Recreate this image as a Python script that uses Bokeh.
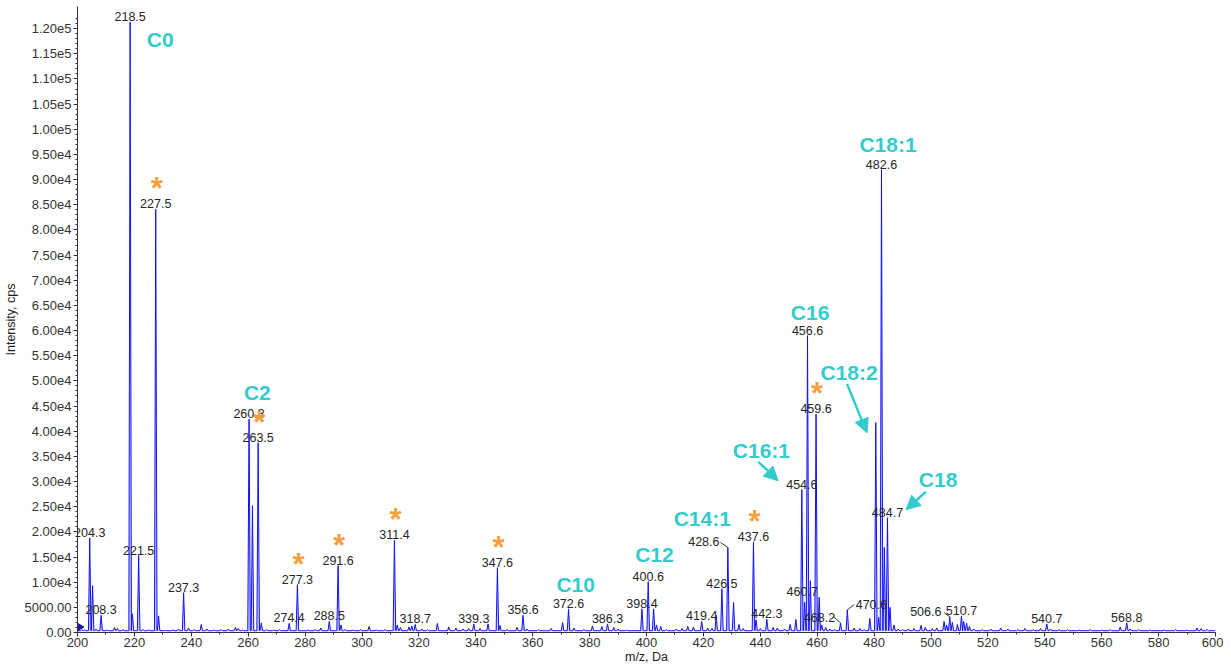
import numpy as np
from bokeh.plotting import figure
from bokeh.models import (ColumnDataSource, Range1d, FixedTicker, CustomJSTickFormatter,
                          LabelSet, Arrow, NormalHead)
from bokeh.core.properties import value
from bokeh.embed import file_html
from bokeh.resources import INLINE

# ---------------- data ----------------
# main peaks (m/z, intensity cps)
peak_mz = [204.3, 205.3, 208.3, 218.5, 219.3, 221.5, 227.5, 228.5, 237.3,
           260.3, 261.5, 263.5, 264.6, 274.4, 277.3, 288.5, 291.6, 292.6,
           311.4, 312.4, 318.7, 339.3, 344.3, 347.6, 348.5, 356.6, 370.5, 372.6,
           386.3, 398.4, 400.6, 402.5, 403.5, 419.4, 424.5, 426.5, 428.6, 430.6,
           437.6, 438.5, 442.3, 452.5, 454.6, 455.6, 456.6, 457.6, 459.6, 460.7,
           461.6, 468.2, 470.6, 478.5, 480.6, 481.6, 482.6, 483.6, 484.7, 485.6,
           504.6, 505.5, 506.6, 507.5, 510.7, 511.5, 512.5, 540.7, 568.8]
peak_int = [18800, 9300, 3400, 121300, 3700, 15300, 84100, 3300, 7900,
            42400, 25200, 37700, 1900, 1800, 9500, 2200, 13300, 1500,
            18300, 1500, 1600, 1700, 1700, 12900, 1400, 3400, 2000, 4700,
            1700, 4700, 10100, 4700, 1500, 2200, 3400, 8700, 16900, 6000,
            18000, 2500, 2600, 2600, 28400, 6000, 59000, 10300, 43400, 7000,
            1500, 1900, 4500, 2800, 41700, 3000, 92000, 16900, 22800, 5000,
            2200, 1500, 3100, 2000, 3300, 2200, 1900, 1700, 1900]

# small baseline peaks
noise_mz = [201.5, 202.5, 206.5, 210.5, 213.0, 214.0, 216.0, 223.0, 225.0, 231.0,
            233.5, 235.5, 239.0, 241.0, 243.5, 245.5, 248.0, 250.5, 253.0, 255.5,
            256.5, 258.0, 266.5, 269.0, 271.0, 281.0, 283.5, 285.5, 294.0, 297.0,
            299.5, 302.5, 305.0, 308.0, 313.5, 316.5, 317.5, 321.0, 323.0, 326.5,
            330.5, 333.0, 335.5, 337.5, 341.5, 351.0, 354.5, 358.0, 362.0, 366.5,
            374.5, 378.0, 381.0, 384.3, 388.5, 390.0, 393.0, 405.0, 407.0, 410.5,
            412.5, 414.5, 416.5, 421.5, 423.0, 432.5, 434.0, 440.0, 444.5, 446.0,
            448.5, 450.5, 463.0, 464.5, 466.0, 473.0, 475.0, 476.5, 487.0, 488.5,
            490.0, 492.0, 494.0, 496.5, 498.0, 500.5, 502.0, 509.3, 513.5, 515.0,
            518.0, 521.0, 524.5, 527.0, 530.5, 533.0, 536.0, 538.5, 542.0, 545.0,
            548.0, 552.0, 556.0, 560.0, 563.0, 566.5, 570.0, 573.0, 577.0, 582.0,
            586.0, 590.0, 593.5, 595.0, 597.0]
noise_int = [600, 500, 700, 500, 1000, 800, 600, 600, 500, 400,
             500, 700, 900, 600, 1600, 700, 500, 600, 700, 1000,
             800, 500, 600, 500, 600, 500, 600, 900, 600, 500,
             600, 1200, 500, 600, 1000, 1100, 1300, 700, 600, 1800,
             1100, 900, 700, 800, 800, 600, 1000, 700, 600, 800,
             900, 600, 1300, 1200, 1000, 700, 500, 1200, 600, 700,
             800, 1200, 1100, 900, 800, 1600, 800, 800, 1000, 900,
             700, 1600, 1000, 700, 600, 900, 800, 600, 1500, 700,
             600, 700, 800, 1400, 1000, 800, 900, 1600, 1200, 700,
             600, 700, 900, 700, 600, 800, 600, 800, 700, 600,
             600, 500, 600, 500, 600, 1100, 700, 600, 500, 500,
             600, 500, 900, 800, 600]
baseline_level = 350

# labelled peaks
label_mz = [204.3, 208.3, 218.5, 221.5, 227.5, 237.3, 260.3, 263.5, 274.4, 277.3,
            288.5, 291.6, 311.4, 318.7, 339.3, 347.6, 356.6, 372.6, 386.3, 398.4,
            400.6, 419.4, 426.5, 428.6, 437.6, 442.3, 454.6, 456.6, 459.6, 460.7,
            468.2, 470.6, 482.6, 484.7, 506.6, 510.7, 540.7, 568.8]
# peaks marked with an asterisk
starred_mz = [227.5, 263.5, 277.3, 291.6, 311.4, 347.6, 437.6, 459.6]

# compound annotations (text, anchor m/z, anchor intensity)
annot_text = ["C0", "C2", "C10", "C12", "C14:1", "C16:1", "C16", "C18:1", "C18:2", "C18"]
annot_mz = [229.1, 263.2, 375.1, 402.8, 419.6, 440.4, 457.5, 484.9, 471.2, 502.5]
annot_int = [117800, 47600, 9520, 15470, 22610, 36100, 63670, 97000, 51570, 30350]

# arrows (start m/z, start int, end m/z, end int)
arrow_x0 = [470.5, 439.3, 498.2]
arrow_y0 = [49390, 33920, 27970]
arrow_x1 = [477.5, 446.3, 491.2]
arrow_y1 = [39670, 30150, 24400]

# leader lines from shifted labels to peak tops
leader_x0 = [426.0, 465.6, 473.0, 504.6]
leader_y0 = [17900, 3170, 5550, 3970]
leader_x1 = [428.6, 468.2, 470.6, 506.6]
leader_y1 = [16900, 1900, 4500, 3100]

x_ticks = list(range(200, 601, 20))
x_minor = list(range(200, 601, 10))
y_ticks = list(range(0, 120001, 5000))
y_minor = list(range(0, 122001, 1000))

# ---------------- styles ----------------
CYAN = "#33CCCC"
ORANGE = "#F5A142"
BLUE = "#1010FF"
FONT = "Liberation Sans"
label_shift = {428.6: -24, 460.7: -17, 468.2: -21, 470.6: 24, 506.6: -24}
half_width = 0.45

# ---------------- build profile ----------------
lookup = dict(zip(peak_mz, peak_int))
all_pk = sorted(list(zip(peak_mz, peak_int)) + list(zip(noise_mz, noise_int)))
prof_x = [200.0]
prof_y = [baseline_level]
for m, i in all_pk:
    prof_x += [m - half_width, m, m + half_width]
    prof_y += [baseline_level, i, baseline_level]
prof_x.append(600.0)
prof_y.append(baseline_level)

p = figure(width=1223, height=666, x_range=Range1d(200, 600), y_range=Range1d(0, 124400),
           output_backend="svg", toolbar_location=None,
           min_border_left=10, min_border_right=8, min_border_top=6, min_border_bottom=10)
p.xgrid.visible = False
p.ygrid.visible = False
p.outline_line_color = None
p.background_fill_color = "white"

p.varea(x=prof_x, y1=baseline_level, y2=prof_y, fill_color="#c4c4ff", fill_alpha=0.9)
p.line(prof_x, prof_y, line_color=BLUE, line_width=1)

# axis marker triangle at zero
p.scatter([200.25], [1100], marker="triangle", angle=-np.pi / 2, size=10,
          fill_color="#1515b0", line_color="#1515b0")

# axes
for ax in (p.xaxis[0], p.yaxis[0]):
    ax.axis_line_color = "#333333"
    ax.major_tick_line_color = "#333333"
    ax.minor_tick_line_color = "#333333"
    ax.major_label_text_font = FONT
    ax.major_label_text_font_size = "13px"
    ax.major_label_text_color = "#333333"
    ax.axis_label_text_font = FONT
    ax.axis_label_text_font_size = "12.5px"
    ax.axis_label_text_font_style = "normal"
    ax.axis_label_text_color = "#222222"
    ax.major_tick_in = 0
    ax.minor_tick_in = 0

p.xaxis.ticker = FixedTicker(ticks=x_ticks, minor_ticks=x_minor)
p.yaxis.ticker = FixedTicker(ticks=y_ticks, minor_ticks=y_minor)
p.xaxis.major_tick_out = 4
p.xaxis.minor_tick_out = 2
p.yaxis.major_tick_out = 4
p.yaxis.minor_tick_out = 2
p.xaxis.major_label_standoff = 1
p.yaxis.major_label_standoff = 2
p.xaxis.axis_label = "m/z, Da"
p.yaxis.axis_label = "Intensity, cps"
p.xaxis.axis_label_standoff = 0
p.yaxis.axis_label_standoff = 4
p.yaxis.formatter = CustomJSTickFormatter(code="""
if (tick == 0) return "0.00";
if (tick < 10000) return tick.toFixed(2);
return tick.toExponential(2).replace("e+", "e");
""")

# peak labels
lab_src = ColumnDataSource(dict(
    x=label_mz,
    y=[lookup[m] for m in label_mz],
    t=["%.1f" % m for m in label_mz],
    dx=[label_shift.get(m, 0) for m in label_mz],
))
p.add_layout(LabelSet(x="x", y="y", text="t", source=lab_src, x_offset="dx", y_offset=1,
                      text_align="center", text_baseline="alphabetic",
                      text_font=value(FONT), text_font_size="12.5px", text_color="#262626"))

# leader lines
p.segment(leader_x0, leader_y0, leader_x1, leader_y1, line_color="#333333", line_width=1)

# asterisks
star_src = ColumnDataSource(dict(x=starred_mz, y=[lookup[m] for m in starred_mz],
                                 t=["*"] * len(starred_mz)))
p.add_layout(LabelSet(x="x", y="y", text="t", source=star_src, x_offset=1, y_offset=10,
                      text_align="center", text_baseline="alphabetic",
                      text_font=value(FONT), text_font_style="bold", text_font_size="31px",
                      text_color=ORANGE))

# compound annotations
ann_src = ColumnDataSource(dict(x=annot_mz, y=annot_int, t=annot_text))
p.add_layout(LabelSet(x="x", y="y", text="t", source=ann_src,
                      text_align="center", text_baseline="middle",
                      text_font=value(FONT), text_font_style="bold", text_font_size="21px",
                      text_color=CYAN))

for x0, y0, x1, y1 in zip(arrow_x0, arrow_y0, arrow_x1, arrow_y1):
    p.add_layout(Arrow(end=NormalHead(size=14, fill_color=CYAN, line_color=CYAN),
                       x_start=x0, y_start=y0, x_end=x1, y_end=y1,
                       line_color=CYAN, line_width=2.5))

open("out.html", "w").write(file_html(p, INLINE))
